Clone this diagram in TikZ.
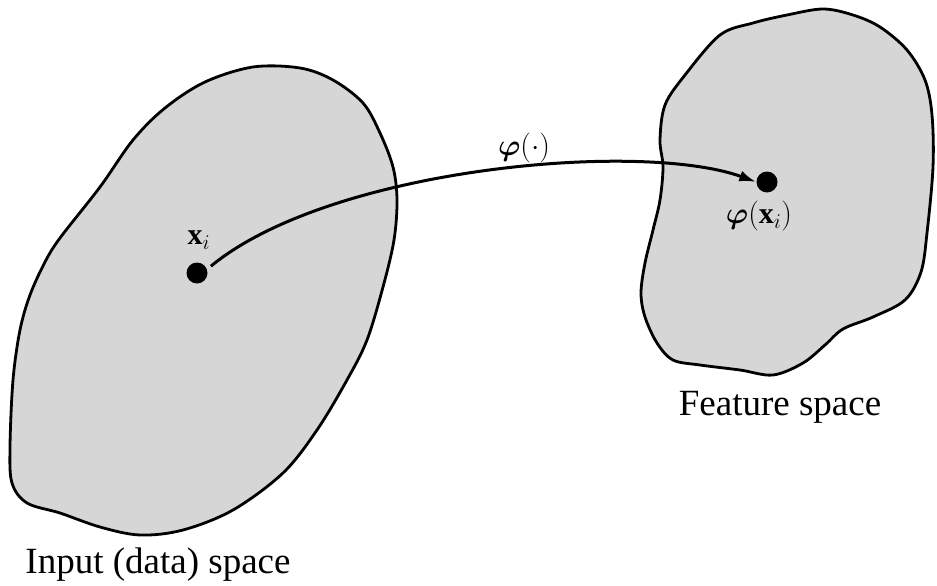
\RequirePackage{fix-cm}
\documentclass[tikz,border=0pt]{standalone}
\usepackage{fontspec}
\usepackage{amsmath,bm}
\usetikzlibrary{arrows.meta}
\setmainfont{Liberation Serif}
\begin{document}
\begin{tikzpicture}[x=1pt,y=-1pt,
  blob/.style={draw=black,line width=2.8pt,fill=gray!32},
  dot/.style={circle,fill=black,inner sep=0pt,minimum size=21pt},
  lbl/.style={font=\fontsize{37}{40}\selectfont},
  mlbl/.style={font=\fontsize{30}{34}\selectfont}]
\useasboundingbox (0,0) rectangle (937,586);
% input space blob
\draw[blob] plot[smooth cycle,tension=0.55] coordinates {
  (253,67) (300,68) (333,80) (363,103) (380,133) (393,167) (397,200)
  (394,240) (383,287) (367,340) (347,380) (317,430) (283,473) (233,510)
  (183,530) (140,535) (100,527) (60,513) (27,503) (12,483) (10,447)
  (13,380) (20,330) (30,295) (45,262) (60,238) (100,187) (133,140)
  (165,108) (205,82)};
% feature space blob
\draw[blob] plot[smooth cycle,tension=0.55] coordinates {
  (720,35) (753,23) (787,15) (823,9) (853,15) (880,27) (907,50) (925,80)
  (932,115) (933,167) (927,233) (921,272) (905,300) (873,317) (843,329)
  (825,345) (803,363) (773,375) (740,370) (700,365) (673,360) (657,343)
  (645,317) (641,293) (645,263) (653,230) (660,200) (663,167) (660,140)
  (665,105) (685,75)};
\node[dot] (xi) at (197,273) {};
\node[dot] (pxi) at (767,182) {};
\node[mlbl] (xil) at (199,240) {$\mathbf{x}_i$};
\node[mlbl] (pxil) at (759,216) {$\bm{\varphi}(\mathbf{x}_i)$};
\node[mlbl] (phil) at (524,148) {$\bm{\varphi}(\cdot)$};
\draw[line width=3pt,shorten <=5pt,-{Latex[length=17pt,width=11pt]}]
  (xi.20) .. controls (330,168) and (640,140) .. (pxi.west);
\node[lbl] (fs) at (780,407) {Feature space};
\node[lbl] (is) at (158,565) {Input (data) space};
\end{tikzpicture}
\end{document}
